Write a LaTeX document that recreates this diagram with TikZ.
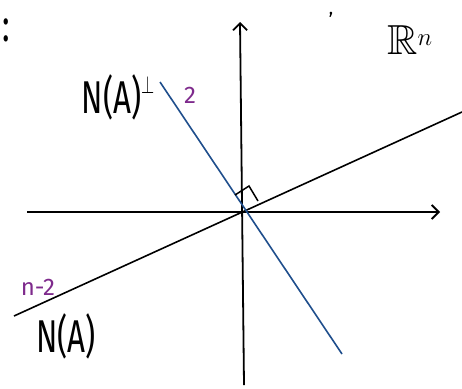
\documentclass[tikz,border=0pt]{standalone}
\usepackage{amssymb}
\usepackage{fontspec}
\setsansfont{Fira Sans}
\usetikzlibrary{arrows.meta}
\definecolor{nblue}{HTML}{1F4E8C}
\definecolor{npurple}{HTML}{7E2A8C}
\begin{document}
\begin{tikzpicture}[x=1pt,y=-1pt,
  axis/.style={line width=1.8pt,black,-{Straight Barb[length=7pt,width=14pt,line width=1.8pt]}},
  ln/.style={line width=1.6pt},
  lbl/.style={font=\sffamily\fontsize{46}{48}\selectfont,inner sep=0pt,xscale=0.68},
  dim/.style={font=\sffamily\fontsize{24}{26}\selectfont,text=npurple,inner sep=0pt}]
\useasboundingbox (0,0) rectangle (462,388);
% axes
\coordinate (xs) at (27,212);
\coordinate (xe) at (440,212);
\coordinate (ys) at (244,385);
\coordinate (ye) at (240,22);
\draw[axis] (xs) -- (xe);
\draw[axis] (ys) -- (ye);
% N(A) line
\coordinate (a1) at (14,316);
\coordinate (a2) at (462,112);
\draw[ln] (a1) -- (a2);
% N(A)^perp line
\coordinate (b1) at (160,82);
\coordinate (b2) at (342,354);
\draw[ln,nblue] (b1) -- (b2);
% right angle mark
\coordinate (r1) at (235,195);
\coordinate (r2) at (249,186);
\coordinate (r3) at (258,201);
\draw[line width=1.5pt] (r1) -- (r2) -- (r3);
% labels
\node[lbl] (perp) at (118,97) {N(A)\raisebox{20pt}{\fontsize{30}{30}\selectfont$\perp$}};
\node[dim] (two) at (190,95) {2};
\node[font=\fontsize{42}{44}\selectfont,inner sep=0pt] (rn) at (410,40) {$\mathbb{R}^{n}$};
\node[dim] (nm2) at (38,287) {n-2};
\node[lbl] (na) at (66,336) {N(A)};
\node[lbl] (colon) at (6,30) {:};
\node[font=\sffamily\fontsize{18}{20}\selectfont,inner sep=0pt] (comma) at (331,15) {,};
\end{tikzpicture}
\end{document}
